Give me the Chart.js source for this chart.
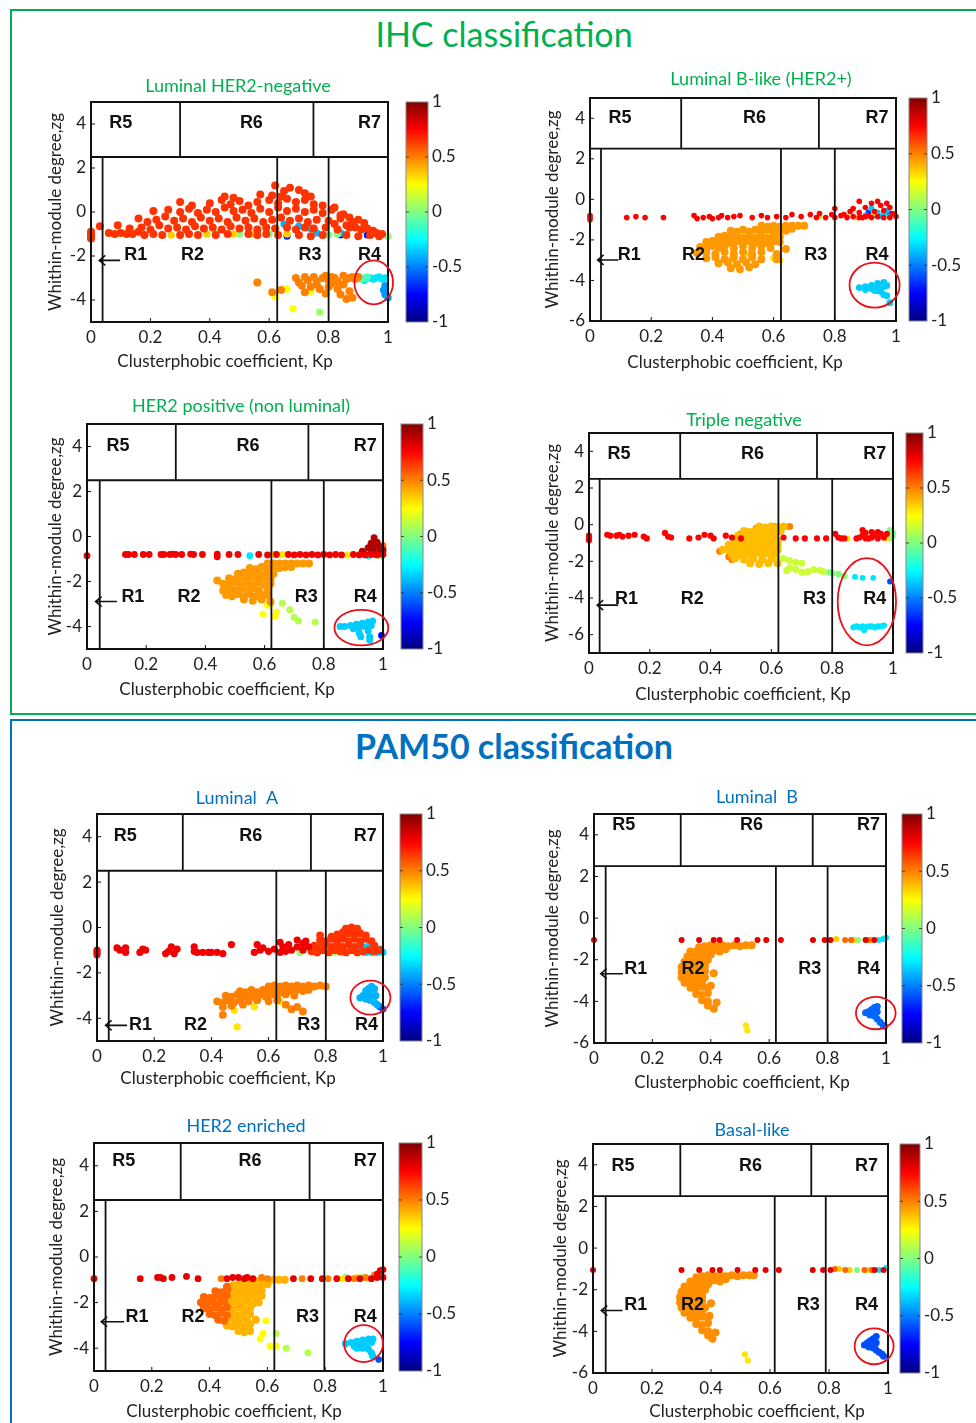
<!DOCTYPE html>
<html><head><meta charset="utf-8">
<script src="https://cdn.jsdelivr.net/npm/chart.js@4.4.1/dist/chart.umd.min.js"></script>
<style>
html,body{margin:0;padding:0;background:#fff;}
#page{position:relative;width:976px;height:1423px;overflow:hidden;font-family:Lato,"Open Sans",sans-serif;}
.frame{position:absolute;box-sizing:border-box;}
.big{position:absolute;transform:translateX(-50%);white-space:nowrap;font-size:34px;line-height:1;}
.pan{position:absolute;}
</style></head><body><div id="page">
<div class="frame" style="left:10px;top:9px;width:990px;height:706px;border:2px solid #00b050;"></div>
<div class="frame" style="left:10px;top:719px;width:990px;height:740px;border:2px solid #0070c0;"></div>
<div class="big" style="left:504px;top:17px;color:#00b050;">IHC classification</div>
<div class="big" style="left:514px;top:729px;color:#0070c0;font-weight:bold;">PAM50 classification</div>
</div>
<script>
// ---------- tick labels ----------
const xTickValues = [0, 0.2, 0.4, 0.6, 0.8, 1];
const xTickLabels = ['0', '0.2', '0.4', '0.6', '0.8', '1'];
const yTicks5 = [-4, -2, 0, 2, 4];
const yTicks6 = [-6, -4, -2, 0, 2, 4];
const cbarTickValues = [-1, -0.5, 0, 0.5, 1];
const cbarTickLabels = ['-1', '-0.5', '0', '0.5', '1'];
const xAxisLabel = 'Clusterphobic coefficient, Kp';
const yAxisLabel = 'Whithin-module degree,zg';

// ---------- Panel 1: Luminal HER2-negative ----------
const p1Red = [[0,-0.9],[0,-1.0],[0,-1.1],[0,-1.2],[0.03,-0.65],[0.06,-0.95],[0.08,-1.0],[0.10,-0.95],[0.12,-1.0],[0.14,-1.0],[0.16,-0.9],[0.18,-1.05],[0.21,-1.0],[0.24,-1.05],[0.30,-1.05],[0.33,-1.0],[0.36,-1.05],[0.42,-1.05],[0.46,-1.0],[0.53,-1.0],[0.56,-1.05],[0.59,-1.0],[0.63,-1.05],[0.70,-1.05],[0.74,-1.1],[0.78,-1.05],[0.86,-1.05],[0.90,-1.1],[0.94,-1.05],[0.97,-1.1],
[0.09,-0.6],[0.13,-0.75],[0.17,-0.7],[0.20,-0.8],[0.23,-0.6],[0.26,-0.75],[0.29,-0.7],[0.32,-0.8],[0.35,-0.65],[0.38,-0.75],[0.41,-0.7],[0.44,-0.8],[0.47,-0.65],[0.50,-0.75],[0.53,-0.7],[0.56,-0.8],[0.59,-0.7],[0.62,-0.75],[0.66,-0.7],[0.69,-0.8],[0.72,-0.7],[0.75,-0.75],[0.79,-0.7],[0.83,-0.8],[0.87,-0.7],[0.91,-0.8],[0.95,-0.85],
[0.16,-0.3],[0.19,-0.45],[0.22,-0.35],[0.25,-0.2],[0.28,-0.4],[0.31,-0.3],[0.34,-0.45],[0.37,-0.25],[0.40,-0.4],[0.43,-0.3],[0.46,-0.45],[0.49,-0.25],[0.52,-0.4],[0.55,-0.3],[0.58,-0.45],[0.61,-0.35],[0.64,-0.25],[0.67,-0.4],[0.70,-0.3],[0.73,-0.45],[0.76,-0.35],[0.80,-0.4],[0.84,-0.3],[0.88,-0.45],[0.92,-0.5],
[0.21,0.05],[0.26,0.1],[0.30,0.0],[0.33,0.15],[0.36,-0.05],[0.39,0.1],[0.42,0.0],[0.45,0.2],[0.48,0.05],[0.51,0.1],[0.54,-0.05],[0.57,0.15],[0.60,0.0],[0.63,0.2],[0.66,0.05],[0.69,0.15],[0.72,0.0],[0.75,0.1],[0.78,-0.05],[0.81,0.1],[0.85,-0.1],
[0.30,0.45],[0.34,0.3],[0.40,0.4],[0.44,0.55],[0.47,0.35],[0.50,0.5],[0.53,0.3],[0.56,0.45],[0.60,0.55],[0.63,0.4],[0.66,0.6],[0.69,0.45],[0.72,0.55],[0.75,0.35],[0.78,0.3],[0.82,0.2],
[0.45,0.7],[0.48,0.65],[0.57,0.8],[0.61,0.75],[0.62,1.2],[0.65,0.95],[0.67,1.1],[0.70,1.0],[0.72,0.85],[0.74,0.7],[0.64,0.7],
[0.82,-0.55],[0.86,-0.6],[0.89,-0.7],[0.93,-0.75],[0.96,-0.95],[0.98,-1.0],[0.84,-0.15],[0.87,-0.25],[0.90,-0.35]];
const p1Yellow = [[0.27,-1.05],[0.39,-1.0],[0.48,-1.0],[0.55,-1.0],[0.66,-1.0]];
const p1Green = [[0.42,-0.95],[0.50,-1.0],[0.60,-1.0],[0.80,-1.05],[0.83,-1.0],[1.0,-1.1],[0.97,-0.95]];
const p1Cyan = [[0.65,-0.55],[0.70,-0.65],[0.74,-0.75],[0.76,-0.95],[0.84,-0.95],[0.97,-1.05]];
const p1Blue = [[0.66,-1.1],[0.84,-1.05],[0.93,-1.05]];
const p1Low = [[0.69,-3.0],[0.70,-3.2],[0.72,-2.95],[0.73,-3.1],[0.75,-2.95],[0.76,-3.15],[0.78,-3.0],[0.79,-2.9],[0.80,-3.1],[0.81,-2.95],[0.82,-3.0],[0.83,-3.15],[0.85,-2.9],[0.86,-3.05],[0.87,-3.0],[0.88,-2.95],[0.89,-3.05],[0.90,-2.95],[0.71,-3.35],[0.74,-3.4],[0.77,-3.5],[0.80,-3.4],[0.83,-3.5],[0.85,-3.3],[0.87,-3.6],[0.84,-3.75],[0.79,-3.7],[0.72,-3.65],[0.88,-3.9],[0.86,-3.95],[0.76,-3.3],[0.81,-3.25],[0.56,-3.2],[0.61,-3.65],[0.64,-3.55]];
const p1LowYellow = [[0.66,-3.5],[0.62,-3.85],[0.68,-4.4],[0.74,-3.6]];
const p1LowGreen = [[0.77,-4.55]];
const p1R4a = [[0.90,-3.0],[0.91,-3.05],[0.92,-3.0],[0.93,-2.95]];
const p1R4b = [[0.94,-3.0],[0.95,-3.05],[0.96,-3.0],[0.97,-2.95],[0.98,-3.05],[0.92,-3.1],[0.99,-3.0]];
const p1R4c = [[0.99,-3.35],[0.985,-3.55],[0.99,-3.75],[1.0,-3.9]];

// ---------- Panel 2: Luminal B-like (HER2+) ----------
const p2Red = [[0,-0.8],[0,-0.9],[0,-1.0],[0.12,-0.9],[0.15,-0.85],[0.18,-0.9],[0.24,-0.9],[0.34,-0.8],[0.35,-0.95],[0.37,-0.9],[0.39,-0.85],[0.40,-0.95],[0.42,-0.9],[0.43,-0.8],[0.45,-0.9],[0.47,-0.85],[0.49,-0.8],[0.53,-0.9],[0.56,-0.8],[0.58,-0.9],[0.61,-0.85],[0.64,-0.9],[0.66,-0.75],[0.69,-0.85],[0.72,-0.75],[0.74,-0.9],[0.75,-0.7],[0.77,-0.9],[0.79,-0.75],[0.80,-0.9],[0.82,-0.8],[0.84,-0.9],[0.86,-0.85],[0.88,-0.9],[0.90,-0.85],[0.92,-0.9],[0.94,-0.85],[0.96,-0.9],[0.98,-0.9],[1.0,-0.85],[0.80,-0.45],[0.85,-0.6],[0.83,-0.75],[0.86,-0.45],[0.88,-0.65],[0.88,-0.1],[0.90,-0.4],[0.92,-0.2],[0.94,-0.1],[0.95,-0.3],[0.96,-0.55],[0.97,-0.2],[0.93,-0.6],[0.91,-0.8],[0.98,-0.4],[0.99,-0.7],[0.89,-0.9]];
const p2Yellow = [[0.84,-0.85],[0.75,-0.85],[0.93,-0.7],[0.87,-0.9]];
const p2Cyan = [[0.94,-0.65],[0.95,-0.85],[0.93,-0.8],[0.96,-0.75],[0.97,-0.55],[0.98,-0.85],[0.92,-0.45],[0.90,-0.8]];
const p2Blue = [[0.98,-0.7],[0.91,-0.65]];
const p2Fan = [[0.56,-1.3],[0.58,-1.35],[0.60,-1.3],[0.62,-1.35],[0.64,-1.3],[0.66,-1.3],[0.68,-1.3],[0.70,-1.3],
[0.46,-1.55],[0.48,-1.6],[0.50,-1.5],[0.52,-1.6],[0.54,-1.5],[0.56,-1.6],[0.58,-1.5],[0.60,-1.6],[0.62,-1.5],[0.64,-1.55],[0.66,-1.45],
[0.42,-1.85],[0.44,-1.8],[0.46,-1.9],[0.48,-1.8],[0.50,-1.9],[0.52,-1.8],[0.54,-1.9],[0.56,-1.8],[0.58,-1.9],[0.60,-1.8],[0.62,-1.85],
[0.38,-2.1],[0.40,-2.05],[0.42,-2.15],[0.44,-2.05],[0.46,-2.15],[0.48,-2.05],[0.50,-2.15],[0.52,-2.05],[0.54,-2.15],[0.56,-2.05],[0.58,-2.15],[0.60,-2.05],[0.62,-2.1],
[0.36,-2.35],[0.38,-2.4],[0.40,-2.3],[0.42,-2.4],[0.44,-2.3],[0.47,-2.4],[0.50,-2.3],[0.53,-2.4],[0.56,-2.3],[0.59,-2.4],[0.64,-2.45],
[0.35,-2.65],[0.38,-2.6],[0.41,-2.7],[0.44,-2.6],[0.47,-2.7],[0.50,-2.6],[0.53,-2.7],[0.56,-2.6],[0.61,-2.7],
[0.38,-2.9],[0.41,-2.85],[0.44,-2.95],[0.47,-2.85],[0.50,-2.95],[0.53,-2.85],[0.56,-2.95],[0.61,-2.95],
[0.42,-3.15],[0.45,-3.1],[0.48,-3.2],[0.51,-3.1],[0.54,-3.2],
[0.46,-3.4],[0.49,-3.45],[0.52,-3.35]];
const p2FanYellow = [[0.46,-3.0],[0.60,-2.9],[0.52,-2.7],[0.62,-3.0]];
const p2R4 = [[0.88,-4.35],[0.90,-4.3],[0.90,-4.45],[0.92,-4.25],[0.92,-4.4],[0.94,-4.15],[0.94,-4.35],[0.94,-4.5],[0.96,-4.1],[0.96,-4.3],[0.95,-4.55],[0.96,-4.7],[0.97,-4.25],[0.97,-4.75],[0.98,-5.1],[0.93,-4.5]];

// ---------- Panel 3: HER2 positive (non luminal) ----------
const p3Red = [[0,-0.85],[0.13,-0.8],[0.14,-0.8],[0.16,-0.8],[0.19,-0.8],[0.21,-0.8],[0.25,-0.8],[0.26,-0.8],[0.28,-0.8],[0.29,-0.78],[0.30,-0.8],[0.32,-0.8],[0.35,-0.78],[0.36,-0.8],[0.39,-0.8],[0.44,-0.78],[0.44,-0.9],[0.48,-0.8],[0.51,-0.8],[0.58,-0.8],[0.61,-0.82],[0.64,-0.8],[0.68,-0.8],[0.70,-0.82],[0.72,-0.8],[0.74,-0.82],[0.76,-0.8],[0.78,-0.82],[0.80,-0.8],[0.82,-0.82],[0.84,-0.8],[0.86,-0.82],[0.90,-0.8],[0.92,-0.82],[0.94,-0.82],[0.96,-0.8],[0.98,-0.82],[1.0,-0.8]];
const p3DarkRed = [[0.97,-0.05],[0.96,-0.3],[0.98,-0.25],[0.95,-0.5],[0.97,-0.5],[0.99,-0.45],[0.93,-0.65],[0.96,-0.7],[0.99,-0.7],[1.0,-0.6],[0.94,-0.8],[0.97,-0.75]];
const p3Orange = [[0.98,-0.35],[1.0,-0.4],[0.99,-0.55]];
const p3RowYellow = [[0.88,-0.82],[0.63,-0.8],[0.66,-0.8]];
const p3RowGreen = [[0.92,-0.8],[0.99,-0.85],[0.98,-0.72]];
const p3RowCyan = [[0.55,-0.85],[0.95,-0.85],[0.97,-0.8]];
const p3Fan = [[0.61,-1.2],[0.63,-1.2],[0.65,-1.2],[0.67,-1.2],[0.69,-1.2],[0.71,-1.2],[0.73,-1.2],[0.75,-1.2],
[0.55,-1.4],[0.57,-1.45],[0.59,-1.35],[0.61,-1.45],[0.63,-1.35],[0.65,-1.4],[0.67,-1.35],[0.69,-1.35],
[0.51,-1.65],[0.53,-1.6],[0.55,-1.7],[0.57,-1.6],[0.59,-1.7],[0.61,-1.6],[0.63,-1.65],
[0.48,-1.85],[0.50,-1.9],[0.52,-1.8],[0.54,-1.9],[0.56,-1.8],[0.58,-1.9],[0.60,-1.8],[0.62,-1.9],
[0.46,-2.1],[0.48,-2.15],[0.50,-2.05],[0.52,-2.15],[0.54,-2.05],[0.56,-2.15],[0.58,-2.05],[0.60,-2.15],[0.62,-2.1],
[0.46,-2.4],[0.48,-2.35],[0.50,-2.4],[0.52,-2.3],[0.54,-2.4],[0.56,-2.3],[0.58,-2.4],[0.61,-2.35],
[0.47,-2.6],[0.49,-2.65],[0.51,-2.55],[0.53,-2.65],[0.55,-2.55],[0.57,-2.65],[0.59,-2.6],[0.61,-2.6],
[0.53,-2.8],[0.56,-2.85],[0.59,-2.8],[0.62,-2.9],[0.44,-1.95]];
const p3FanYellow = [[0.61,-2.65],[0.61,-3.05],[0.595,-3.45],[0.64,-3.35],[0.635,-3.55],[0.62,-3.0]];
const p3FanGreen = [[0.66,-2.97],[0.685,-3.26],[0.70,-3.6],[0.714,-3.76],[0.771,-3.8]];
const p3R4 = [[0.855,-4.0],[0.87,-4.0],[0.89,-3.95],[0.91,-3.9],[0.93,-3.85],[0.95,-3.8],[0.965,-3.75],[0.90,-4.1],[0.92,-4.05],[0.94,-4.0],[0.96,-3.95],[0.92,-4.3],[0.925,-4.45],[0.95,-4.2],[0.955,-4.45],[0.955,-4.6]];
const p3Blue = [[0.995,-4.4]];

// ---------- Panel 4: Triple negative ----------
const p4Red = [[0,-0.6],[0,-0.75],[0,-0.85],[0.06,-0.55],[0.07,-0.6],[0.09,-0.6],[0.10,-0.55],[0.11,-0.65],[0.13,-0.6],[0.15,-0.55],[0.18,-0.65],[0.19,-0.75],[0.25,-0.45],[0.26,-0.65],[0.27,-0.7],[0.33,-0.75],[0.36,-0.7],[0.38,-0.55],[0.40,-0.6],[0.41,-0.75],[0.45,-0.6],[0.47,-0.7],[0.50,-0.75],
[0.64,-0.7],[0.68,-0.75],[0.71,-0.75],[0.75,-0.75],[0.78,-0.75],[0.81,-0.5],[0.82,-0.7],[0.83,-0.75],[0.84,-0.75],[0.88,-0.75],[0.89,-0.7],[0.90,-0.6],[0.90,-0.3],[0.91,-0.45],[0.92,-0.75],[0.93,-0.4],[0.93,-0.7],[0.94,-0.55],[0.95,-0.75],[0.96,-0.5],[0.97,-0.7],[0.98,-0.5],[0.91,-0.75],[0.95,-0.4]];
const p4RowYellow = [[0.85,-0.75],[0.96,-0.6],[0.98,-0.75]];
const p4RowGreen = [[0.99,-0.3],[1.0,-0.6],[0.99,-0.75],[1.0,-0.45]];
const p4Fan = [[0.56,-0.1],[0.58,-0.15],[0.60,-0.1],[0.62,-0.15],[0.64,-0.1],
[0.51,-0.35],[0.53,-0.4],[0.55,-0.3],[0.57,-0.4],[0.59,-0.3],[0.61,-0.4],[0.63,-0.35],
[0.49,-0.6],[0.51,-0.65],[0.53,-0.55],[0.55,-0.65],[0.57,-0.55],[0.59,-0.65],[0.61,-0.6],
[0.48,-0.85],[0.50,-0.9],[0.52,-0.8],[0.54,-0.9],[0.56,-0.8],[0.58,-0.9],[0.60,-0.8],[0.62,-0.9],
[0.46,-1.1],[0.48,-1.15],[0.50,-1.05],[0.52,-1.15],[0.54,-1.05],[0.56,-1.15],[0.58,-1.05],[0.60,-1.15],[0.62,-1.1],
[0.44,-1.35],[0.46,-1.4],[0.48,-1.3],[0.50,-1.4],[0.52,-1.3],[0.54,-1.4],[0.56,-1.3],[0.58,-1.4],[0.60,-1.3],[0.62,-1.4],
[0.47,-1.6],[0.49,-1.65],[0.51,-1.55],[0.53,-1.65],[0.55,-1.55],[0.57,-1.65],[0.59,-1.55],[0.61,-1.6],
[0.48,-1.85],[0.51,-1.9],[0.54,-1.85],[0.57,-1.9],[0.60,-1.85],
[0.53,-2.1],[0.56,-2.15],[0.59,-2.1],[0.62,-2.1]];
const p4FanOrange = [[0.43,-1.45],[0.46,-1.75],[0.47,-1.9],[0.50,-0.5],[0.55,-0.2],[0.61,-0.1],[0.66,-0.1]];
const p4Tail = [[0.62,-1.8],[0.64,-1.85],[0.66,-1.95],[0.68,-2.05],[0.70,-2.1],[0.66,-2.35],[0.65,-2.5],[0.68,-2.45],[0.70,-2.6],[0.72,-2.55],[0.74,-2.45],[0.76,-2.5],[0.77,-2.55]];
const p4TailGreen = [[0.79,-2.6],[0.80,-2.65],[0.82,-2.7],[0.84,-2.8]];
const p4Cyan = [[0.875,-2.85],[0.90,-2.9],[0.935,-2.9]];
const p4Blue = [[0.99,-3.1]];
const p4Bottom = [[0.87,-5.6],[0.88,-5.55],[0.89,-5.6],[0.90,-5.55],[0.91,-5.6],[0.92,-5.55],[0.93,-5.55],[0.94,-5.6],[0.95,-5.55],[0.96,-5.55],[0.97,-5.5],[0.905,-5.75]];

// ---------- Panel 5: Luminal A ----------
const p5Red = [[0,-1.0],[0,-1.1],[0,-1.2],[0.07,-0.9],[0.08,-1.0],[0.10,-0.9],[0.10,-1.1],[0.15,-1.1],[0.16,-0.95],[0.17,-1.0],[0.24,-1.15],[0.25,-1.05],[0.26,-0.85],[0.27,-1.15],[0.28,-0.95],[0.34,-0.85],[0.34,-1.05],[0.35,-1.1],[0.37,-1.1],[0.39,-1.1],[0.40,-1.1],[0.42,-1.1],[0.44,-1.15],[0.47,-0.75],[0.56,-0.75],[0.55,-1.1],[0.57,-1.0],[0.58,-0.9],[0.60,-1.05],[0.62,-0.95],[0.64,-0.65],[0.64,-1.1],[0.65,-0.85],[0.66,-1.05],[0.67,-0.75],[0.68,-1.0],[0.70,-0.85],[0.70,-0.55],[0.72,-0.7],[0.72,-1.0],[0.73,-0.6],[0.74,-0.85]];
const p5Cloud = [[0.87,-0.05],[0.89,0.0],[0.91,-0.05],[0.86,-0.2],
[0.78,-0.35],[0.82,-0.4],[0.84,-0.3],[0.86,-0.35],[0.88,-0.25],[0.90,-0.3],[0.92,-0.25],[0.94,-0.35],
[0.78,-0.55],[0.80,-0.6],[0.82,-0.5],[0.84,-0.6],[0.86,-0.5],[0.88,-0.6],[0.90,-0.5],[0.92,-0.6],[0.94,-0.5],[0.96,-0.6],
[0.76,-0.8],[0.78,-0.85],[0.80,-0.75],[0.82,-0.85],[0.84,-0.75],[0.86,-0.85],[0.88,-0.75],[0.90,-0.85],[0.92,-0.75],[0.97,-0.8],
[0.75,-1.05],[0.77,-1.1],[0.79,-1.0],[0.81,-1.1],[0.83,-1.0],[0.85,-1.05],[0.87,-1.1],[0.89,-1.0],[0.91,-1.1],[0.93,-1.05],[0.95,-1.0],[0.97,-1.05],[0.99,-1.0]];
const p5CloudCyan = [[0.93,-0.85],[0.95,-0.8],[0.97,-0.9],[0.99,-0.95],[0.94,-1.1],[0.96,-1.1],[0.98,-1.1],[1.0,-1.1],[0.92,-1.05],[0.93,-0.9]];
const p5CloudGreen = [[0.71,-1.1],[0.83,-1.1]];
const p5CloudYellow = [[0.85,-1.1],[0.91,-1.05]];
const p5Low = [[0.60,-2.6],[0.62,-2.55],[0.64,-2.6],[0.66,-2.55],[0.68,-2.6],[0.70,-2.55],[0.72,-2.6],[0.74,-2.55],[0.76,-2.6],[0.78,-2.55],[0.80,-2.6],
[0.50,-2.8],[0.52,-2.85],[0.54,-2.75],[0.56,-2.85],[0.58,-2.75],[0.60,-2.85],[0.62,-2.75],[0.64,-2.85],[0.66,-2.75],[0.68,-2.8],[0.70,-2.75],[0.72,-2.8],[0.74,-2.75],
[0.45,-3.0],[0.47,-3.05],[0.49,-2.95],[0.51,-3.05],[0.53,-2.95],[0.55,-3.05],[0.57,-2.95],[0.59,-3.05],[0.61,-2.95],[0.63,-3.0],[0.66,-2.95],[0.69,-3.0],
[0.42,-3.25],[0.44,-3.3],[0.46,-3.2],[0.48,-3.3],[0.50,-3.2],[0.53,-3.25],[0.56,-3.2],[0.60,-3.25],[0.63,-3.2],
[0.44,-3.5],[0.47,-3.45],[0.51,-3.4],[0.66,-3.4],[0.68,-3.6],[0.70,-3.5],[0.72,-3.7],[0.44,-3.85]];
const p5LowYellow = [[0.55,-3.5],[0.48,-3.65],[0.64,-3.25],[0.49,-4.38]];
const p5R4 = [[0.92,-3.1],[0.93,-3.0],[0.94,-2.8],[0.95,-2.7],[0.96,-2.6],[0.97,-2.7],[0.95,-2.95],[0.96,-3.1],[0.97,-3.3],[0.98,-3.4],[0.94,-3.15],[0.965,-2.85],[0.975,-3.0],[0.955,-3.2]];
const p5R4Blue = [[0.99,-3.5],[1.0,-3.6],[0.985,-3.45]];

// ---------- Panel 6: Luminal B ----------
const p6Red = [[0,-1.05],[0.30,-1.05],[0.36,-1.05],[0.41,-1.05],[0.43,-1.05],[0.49,-1.05],[0.56,-1.05],[0.59,-1.05],[0.64,-1.05],[0.75,-1.05],[0.79,-1.05],[0.81,-1.05],[0.93,-1.05],[0.96,-1.05]];
const p6RowOrange = [[0.86,-1.05],[0.88,-1.05],[0.94,-1.05]];
const p6RowYellow = [[0.83,-1.0],[0.89,-1.05],[0.95,-1.05]];
const p6RowGreen = [[0.905,-1.05]];
const p6RowCyan = [[0.975,-1.05],[0.99,-1.0],[1.0,-0.95]];
const p6Fan = [[0.36,-1.4],[0.38,-1.35],[0.40,-1.3],[0.42,-1.35],[0.44,-1.3],[0.46,-1.35],[0.48,-1.3],[0.50,-1.35],[0.52,-1.3],[0.54,-1.3],
[0.33,-1.6],[0.35,-1.6],[0.37,-1.55],[0.39,-1.6],[0.41,-1.55],[0.43,-1.6],[0.45,-1.5],
[0.32,-1.85],[0.34,-1.85],[0.36,-1.8],[0.38,-1.85],[0.40,-1.75],
[0.31,-2.1],[0.33,-2.1],[0.35,-2.05],[0.37,-2.1],[0.39,-2.0],
[0.30,-2.35],[0.32,-2.35],[0.34,-2.3],[0.36,-2.35],[0.38,-2.3],
[0.30,-2.6],[0.32,-2.6],[0.34,-2.55],[0.36,-2.6],[0.38,-2.55],[0.41,-2.65],
[0.30,-2.85],[0.32,-2.9],[0.34,-2.8],[0.36,-2.9],[0.38,-2.85],
[0.31,-3.1],[0.33,-3.1],[0.35,-3.05],[0.37,-3.1],[0.40,-3.25],
[0.33,-3.35],[0.35,-3.4],[0.37,-3.3],[0.39,-3.35],
[0.35,-3.65],[0.37,-3.7],[0.39,-3.6],
[0.37,-3.95],[0.39,-4.0],[0.42,-4.05],
[0.39,-4.2],[0.41,-4.35]];
const p6FanYellow = [[0.52,-5.15],[0.525,-5.4]];
const p6R4 = [[0.93,-4.55],[0.94,-4.5],[0.95,-4.4],[0.96,-4.3],[0.97,-4.25],[0.95,-4.6],[0.96,-4.7],[0.97,-4.5],[0.97,-4.85],[0.98,-5.0],[0.99,-5.15],[0.995,-5.2],[0.945,-4.65],[0.965,-4.55]];

// ---------- Panel 7: HER2 enriched ----------
const p7Red = [[0,-0.95],[0.16,-0.95],[0.22,-0.9],[0.23,-0.9],[0.24,-0.95],[0.27,-0.9],[0.32,-0.85],[0.36,-0.95],[0.46,-0.95],[0.48,-0.9],[0.50,-0.9],[0.52,-0.95],[0.53,-0.9],[0.55,-0.95],[0.69,-0.95],[0.75,-0.95],[0.79,-0.95],[0.84,-0.95],[0.88,-0.95],[0.92,-0.95],[0.96,-0.95],[0.98,-0.9],[1.0,-0.9],[0.99,-0.6],[1.0,-0.55],[0.98,-0.75]];
const p7RowOrange = [[0.44,-0.95],[0.58,-0.9],[0.60,-0.95],[0.72,-0.95],[0.81,-0.95],[0.90,-0.95],[0.94,-0.9],[0.97,-0.8]];
const p7RowYellow = [[0.86,-0.95],[0.95,-0.95],[0.91,-0.9]];
const p7RowGreen = [[0.87,-0.9],[0.93,-0.9],[0.99,-0.8]];
const p7FanA = [[0.42,-1.5],[0.44,-1.55],[0.46,-1.45],[0.38,-1.75],[0.40,-1.8],[0.42,-1.7],[0.44,-1.8],[0.46,-1.7],
[0.37,-2.0],[0.39,-2.05],[0.41,-1.95],[0.43,-2.05],[0.45,-1.95],[0.38,-2.25],[0.40,-2.3],[0.42,-2.2],[0.44,-2.3],[0.46,-2.2],
[0.40,-2.5],[0.42,-2.55],[0.44,-2.45],[0.46,-2.55],[0.43,-2.75],[0.45,-2.8],[0.46,-1.3]];
const p7FanB = [[0.52,-1.05],[0.54,-1.0],[0.56,-1.05],[0.58,-1.0],[0.60,-1.05],[0.62,-1.0],[0.64,-1.0],[0.66,-1.0],
[0.48,-1.25],[0.50,-1.2],[0.52,-1.25],[0.54,-1.2],[0.56,-1.25],[0.58,-1.2],[0.60,-1.2],
[0.48,-1.55],[0.50,-1.45],[0.52,-1.55],[0.54,-1.45],[0.56,-1.5],[0.58,-1.45],
[0.48,-1.8],[0.50,-1.7],[0.52,-1.8],[0.54,-1.7],[0.56,-1.75],[0.58,-1.7],
[0.47,-2.05],[0.49,-1.95],[0.51,-2.05],[0.53,-1.95],[0.55,-2.05],[0.57,-2.0],
[0.48,-2.3],[0.50,-2.2],[0.52,-2.3],[0.54,-2.25],
[0.48,-2.45],[0.50,-2.55],[0.52,-2.45],[0.54,-2.5],
[0.47,-2.7],[0.49,-2.8],[0.51,-2.7],[0.53,-2.8],[0.56,-2.75],
[0.46,-3.0],[0.48,-3.05],[0.50,-2.95],[0.52,-3.05],[0.54,-2.95],
[0.50,-3.25],[0.52,-3.3],[0.54,-3.25]];
const p7Yellow = [[0.56,-2.8],[0.595,-2.8],[0.575,-3.6],[0.585,-3.35],[0.61,-3.9],[0.63,-3.9]];
const p7Green = [[0.63,-3.35],[0.665,-4.0],[0.74,-4.2]];
const p7R4 = [[0.87,-3.8],[0.89,-3.75],[0.91,-3.7],[0.93,-3.65],[0.95,-3.6],[0.965,-3.6],[0.90,-3.9],[0.92,-3.85],[0.94,-3.8],[0.96,-3.75],[0.93,-4.0],[0.95,-4.05],[0.96,-4.2],[0.965,-4.35],[0.91,-4.0]];
const p7Blue = [[0.985,-4.5]];

// ---------- Panel 8: Basal-like ----------
const p8Red = [[0,-1.05],[0.30,-1.05],[0.36,-1.05],[0.405,-1.05],[0.43,-1.05],[0.49,-1.05],[0.55,-1.05],[0.585,-1.05],[0.63,-1.05],[0.745,-1.05],[0.78,-1.05],[0.805,-1.05],[0.955,-1.05],[0.985,-1.05]];
const p8RowOrange = [[0.82,-1.0],[0.855,-1.05],[0.92,-1.05],[0.945,-1.05]];
const p8RowYellow = [[0.835,-1.0],[0.87,-1.05],[0.93,-1.05]];
const p8RowGreen = [[0.895,-1.05]];
const p8RowCyan = [[0.97,-1.05],[0.995,-0.95]];
const p8Fan = [[0.35,-1.4],[0.37,-1.35],[0.39,-1.3],[0.41,-1.35],[0.43,-1.3],[0.45,-1.35],[0.47,-1.3],[0.49,-1.35],[0.51,-1.3],[0.53,-1.3],[0.545,-1.3],
[0.33,-1.6],[0.35,-1.6],[0.37,-1.55],[0.39,-1.6],[0.41,-1.55],[0.43,-1.6],[0.45,-1.5],
[0.31,-1.85],[0.33,-1.85],[0.35,-1.8],[0.37,-1.85],[0.39,-1.75],
[0.30,-2.1],[0.32,-2.1],[0.34,-2.05],[0.36,-2.1],[0.38,-2.0],
[0.295,-2.35],[0.31,-2.35],[0.33,-2.3],[0.35,-2.35],[0.37,-2.3],
[0.295,-2.6],[0.31,-2.6],[0.33,-2.55],[0.35,-2.6],[0.37,-2.55],[0.40,-2.65],
[0.30,-2.85],[0.32,-2.9],[0.34,-2.8],[0.36,-2.9],[0.38,-2.85],
[0.31,-3.1],[0.33,-3.1],[0.35,-3.05],[0.37,-3.1],[0.395,-3.25],
[0.33,-3.35],[0.35,-3.4],[0.37,-3.3],[0.39,-3.35],
[0.35,-3.65],[0.37,-3.7],[0.39,-3.6],
[0.37,-3.95],[0.39,-4.0],[0.415,-4.05],
[0.39,-4.2],[0.405,-4.35]];
const p8FanYellow = [[0.515,-5.1],[0.525,-5.4]];
const p8R4 = [[0.92,-4.65],[0.93,-4.55],[0.94,-4.45],[0.95,-4.35],[0.96,-4.25],[0.94,-4.7],[0.95,-4.8],[0.96,-4.55],[0.96,-4.9],[0.97,-5.0],[0.98,-5.1],[0.985,-5.2],[0.935,-4.75],[0.955,-4.65]];

// ---------- region boundaries (Kp and zg values) ----------
const p1Lines = {r1:0.039, r23:0.627, r34:0.80, r56:0.30, r67:0.749, h:2.5};
const p2Lines = {r1:0.036, r23:0.624, r34:0.80, r56:0.298, r67:0.748, h:2.5};
const p3Lines = {r1:0.043, r23:0.623, r34:0.80, r56:0.30, r67:0.748, h:2.5};
const p4Lines = {r1:0.035, r23:0.623, r34:0.80, r56:0.30, r67:0.75, h:2.5};
const p5Lines = {r1:0.041, r23:0.627, r34:0.80, r56:0.30, r67:0.748, h:2.5};
const p6Lines = {r1:0.04, r23:0.623, r34:0.80, r56:0.297, r67:0.749, h:2.5};
const p7Lines = {r1:0.04, r23:0.624, r34:0.797, r56:0.30, r67:0.746, h:2.5};
const p8Lines = {r1:0.043, r23:0.616, r34:0.789, r56:0.296, r67:0.74, h:2.5};

// ---------- helpers ----------
const FONT = 'Lato, "Open Sans", sans-serif';
const GREEN = '#00b050', BLUE = '#0070c0';
Chart.defaults.font.family = FONT;
function jet(v) {
  const t = (v + 1) / 2;
  const c = a => Math.round(255 * Math.max(0, Math.min(1, 1.5 - Math.abs(a))));
  return `rgb(${c(4*t-3)},${c(4*t-2)},${c(4*t-1)})`;
}
function regionLabels(top, bot, tx, bx) {
  return [['R5',tx[0],top],['R6',tx[1],top],['R7',tx[2],top],['R1',bx[0],bot],['R2',bx[1],bot],['R3',bx[2],bot],['R4',bx[3],bot]];
}

const panels = [
 {title:'Luminal HER2-negative', color:GREEN, box:[91,102,388,322], cbar:[406,428], titlePos:[238,86], xlabPos:[225,362], ylabX:55, ylim:[-5,5], yticks:yTicks5,
  lines:p1Lines, labels:regionLabels(4.05,-1.95,[0.10,0.54,0.938],[0.151,0.342,0.737,0.938]), arrow:[0.098,0.028,-2.2], circle:[0.952,-3.2,0.065,1.0],
  groups:[[p1Red,0.65,4.0],[p1Yellow,0.35,3.7],[p1Green,0.0,3.7],[p1Cyan,-0.4,3.7],[p1Blue,-0.7,3.5],[p1Low,0.5,4.0],[p1LowYellow,0.25,3.7],[p1LowGreen,0.05,3.7],[p1R4a,-0.1,3.7],[p1R4b,-0.3,3.7],[p1R4c,-0.45,3.7]]},
 {title:'Luminal B-like (HER2+)', color:GREEN, box:[590,98,896,321], cbar:[909,927], titlePos:[761,79], xlabPos:[735,363], ylabX:552, ylim:[-6,5], yticks:yTicks6,
  lines:p2Lines, labels:regionLabels(4.0,-2.74,[0.098,0.538,0.938],[0.128,0.338,0.738,0.938]), arrow:[0.093,0.025,-2.99], circle:[0.93,-4.23,0.082,1.11],
  groups:[[p2Red,0.75,2.8],[p2Yellow,0.3,2.8],[p2Cyan,-0.35,3.0],[p2Blue,-0.65,3.0],[p2Fan,0.45,4.0],[p2FanYellow,0.3,3.4],[p2R4,-0.35,3.4]]},
 {title:'HER2 positive (non luminal)', color:GREEN, box:[87,424,383,649], cbar:[401,423], titlePos:[241,406], xlabPos:[227,690], ylabX:55, ylim:[-5,5], yticks:yTicks5,
  lines:p3Lines, labels:regionLabels(4.0,-2.71,[0.105,0.544,0.94],[0.155,0.345,0.741,0.94]), arrow:[0.101,0.029,-2.89], circle:[0.927,-4.05,0.091,0.79],
  groups:[[p3Red,0.78,3.4],[p3DarkRed,0.9,3.5],[p3Orange,0.55,3.4],[p3RowYellow,0.3,3.4],[p3RowGreen,0.0,3.4],[p3RowCyan,-0.3,3.4],[p3Fan,0.45,4.0],[p3FanYellow,0.25,3.5],[p3FanGreen,0.1,3.5],[p3R4,-0.35,3.5],[p3Blue,-0.75,3.4]]},
 {title:'Triple negative', color:GREEN, box:[589,433,893,653], cbar:[906,923], titlePos:[744,420], xlabPos:[743,695], ylabX:552, ylim:[-7,5], yticks:yTicks6,
  lines:p4Lines, labels:regionLabels(3.84,-4.05,[0.099,0.538,0.94],[0.123,0.34,0.742,0.94]), arrow:[0.096,0.027,-4.39], circle:[0.914,-4.2,0.096,2.38],
  groups:[[p4Red,0.75,3.1],[p4RowYellow,0.3,3.1],[p4RowGreen,0.0,3.1],[p4Fan,0.38,4.0],[p4FanOrange,0.5,3.6],[p4Tail,0.15,3.5],[p4TailGreen,0.0,3.3],[p4Cyan,-0.3,2.9],[p4Blue,-0.6,2.9],[p4Bottom,-0.3,3.1]]},
 {title:'Luminal  A', color:BLUE, box:[97,814,383,1041], cbar:[400,422], titlePos:[237,798], xlabPos:[228,1079], ylabX:57, ylim:[-5,5], yticks:yTicks5,
  lines:p5Lines, labels:regionLabels(4.03,-4.31,[0.099,0.538,0.938],[0.152,0.344,0.74,0.942]), arrow:[0.105,0.03,-4.31], circle:[0.956,-3.09,0.07,0.75],
  groups:[[p5Red,0.78,3.6],[p5Cloud,0.65,3.9],[p5CloudCyan,-0.35,3.6],[p5CloudGreen,0.05,3.6],[p5CloudYellow,0.3,3.6],[p5Low,0.5,3.9],[p5LowYellow,0.3,3.6],[p5R4,-0.4,3.7],[p5R4Blue,-0.6,3.4]]},
 {title:'Luminal  B', color:BLUE, box:[594,814,886,1043], cbar:[902,922], titlePos:[757,797], xlabPos:[742,1083], ylabX:552, ylim:[-6,5], yticks:yTicks6,
  lines:p6Lines, labels:regionLabels(4.48,-2.45,[0.102,0.539,0.94],[0.143,0.339,0.739,0.94]), arrow:[0.099,0.023,-2.67], circle:[0.965,-4.56,0.068,0.78],
  groups:[[p6Red,0.8,3.0],[p6RowOrange,0.55,3.0],[p6RowYellow,0.35,3.0],[p6RowGreen,0.0,3.0],[p6RowCyan,-0.3,3.0],[p6Fan,0.47,4.0],[p6FanYellow,0.3,3.1],[p6R4,-0.55,3.5]]},
 {title:'HER2 enriched', color:BLUE, box:[94,1143,383,1371], cbar:[399,422], titlePos:[246,1126], xlabPos:[234,1412], ylabX:56, ylim:[-5,5], yticks:yTicks5,
  lines:p7Lines, labels:regionLabels(4.19,-2.65,[0.103,0.54,0.939],[0.149,0.343,0.739,0.939]), arrow:[0.104,0.025,-2.84], circle:[0.933,-3.8,0.067,0.81],
  groups:[[p7Red,0.8,3.4],[p7RowOrange,0.5,3.4],[p7RowYellow,0.3,3.4],[p7RowGreen,0.0,3.4],[p7FanA,0.55,4.0],[p7FanB,0.4,4.0],[p7Yellow,0.25,3.5],[p7Green,0.1,3.5],[p7R4,-0.35,3.6],[p7Blue,-0.6,3.3]]},
 {title:'Basal-like', color:BLUE, box:[593,1144,888,1373], cbar:[900,920], titlePos:[752,1130], xlabPos:[757,1412], ylabX:560, ylim:[-6,5], yticks:yTicks6,
  lines:p8Lines, labels:regionLabels(3.95,-2.75,[0.102,0.534,0.927],[0.145,0.337,0.73,0.927]), arrow:[0.10,0.028,-3.0], circle:[0.953,-4.72,0.066,0.86],
  groups:[[p8Red,0.8,3.0],[p8RowOrange,0.55,3.0],[p8RowYellow,0.35,3.0],[p8RowGreen,0.0,3.0],[p8RowCyan,-0.3,3.0],[p8Fan,0.47,4.0],[p8FanYellow,0.3,3.1],[p8R4,-0.6,3.5]]}
];

function decoPlugin(p, CL, CT) {
  return {
    id: 'deco',
    afterDatasetsDraw(chart) {
      const {ctx, chartArea: a, scales: {x, y, y2}} = chart;
      const X = v => x.getPixelForValue(v), Y = v => y.getPixelForValue(v);
      const L = p.lines;
      ctx.save();
      ctx.strokeStyle = '#111'; ctx.lineWidth = 1.8;
      ctx.beginPath();
      ctx.moveTo(a.left, Y(L.h)); ctx.lineTo(a.right, Y(L.h));
      [L.r56, L.r67].forEach(v => { ctx.moveTo(X(v), Y(L.h)); ctx.lineTo(X(v), a.top); });
      [L.r1, L.r23, L.r34].forEach(v => { ctx.moveTo(X(v), Y(L.h)); ctx.lineTo(X(v), a.bottom); });
      ctx.stroke();
      ctx.lineWidth = 2;
      ctx.strokeRect(a.left, a.top, a.right - a.left, a.bottom - a.top);
      ctx.lineWidth = 1; ctx.beginPath();
      xTickValues.forEach(v => { ctx.moveTo(X(v), a.bottom); ctx.lineTo(X(v), a.bottom - 4); });
      p.yticks.forEach(v => { ctx.moveTo(a.left, Y(v)); ctx.lineTo(a.left + 4, Y(v)); });
      ctx.stroke();
      const [cx, cy, rx, ry] = p.circle;
      ctx.strokeStyle = '#e8101a'; ctx.lineWidth = 1.8;
      ctx.beginPath();
      ctx.ellipse(X(cx), Y(cy), Math.abs(X(cx + rx) - X(cx)), Math.abs(Y(cy + ry) - Y(cy)), 0, 0, Math.PI * 2);
      ctx.stroke();
      ctx.fillStyle = '#111';
      ctx.font = 'bold 18px "Liberation Sans", Arial, sans-serif';
      ctx.textAlign = 'center'; ctx.textBaseline = 'middle';
      p.labels.forEach(([t, lx, ly]) => ctx.fillText(t, X(lx), Y(ly)));
      const [ax0, ax1, ay] = p.arrow;
      ctx.strokeStyle = '#111'; ctx.lineWidth = 1.6;
      ctx.beginPath();
      ctx.moveTo(X(ax0), Y(ay)); ctx.lineTo(X(ax1), Y(ay));
      ctx.moveTo(X(ax1) + 6, Y(ay) - 5); ctx.lineTo(X(ax1), Y(ay)); ctx.lineTo(X(ax1) + 6, Y(ay) + 5);
      ctx.stroke();
      // colour bar (jet colormap) with inner ticks at the y2 tick values
      const top = y2.getPixelForValue(1), bot = y2.getPixelForValue(-1);
      const g = ctx.createLinearGradient(0, bot, 0, top);
      for (let i = 0; i <= 8; i++) g.addColorStop(i / 8, jet(-1 + 2 * i / 8));
      const cbx = p.cbar[0] - CL, cbw = p.cbar[1] - p.cbar[0];
      ctx.fillStyle = g; ctx.fillRect(cbx, top, cbw, bot - top);
      ctx.strokeStyle = '#888'; ctx.lineWidth = 1; ctx.strokeRect(cbx, top, cbw, bot - top);
      ctx.strokeStyle = 'rgba(60,30,20,0.8)'; ctx.lineWidth = 1; ctx.beginPath();
      cbarTickValues.slice(1, -1).forEach(v => {
        const py = y2.getPixelForValue(v);
        ctx.moveTo(cbx, py); ctx.lineTo(cbx + 3, py);
        ctx.moveTo(cbx + cbw, py); ctx.lineTo(cbx + cbw - 3, py);
      });
      ctx.stroke();
      ctx.textAlign = 'center'; ctx.textBaseline = 'middle';
      ctx.font = `18px ${FONT}`; ctx.fillStyle = p.color;
      ctx.fillText(p.title, p.titlePos[0] - CL, p.titlePos[1] - CT);
      ctx.font = `17px ${FONT}`; ctx.fillStyle = '#222';
      ctx.fillText(xAxisLabel, p.xlabPos[0] - CL, p.xlabPos[1] - CT);
      ctx.restore();
    }
  };
}

const page = document.getElementById('page');
panels.forEach(p => {
  const [bl, bt, br, bb] = p.box;
  const CL = Math.round(p.ylabX - 14);
  const CT = p.titlePos[1] - 16;
  const CR = p.cbar[1] + 46;
  const CB = p.xlabPos[1] + 12;
  const W = CR - CL, H = CB - CT;
  const div = document.createElement('div');
  div.className = 'pan';
  div.style.cssText = `left:${CL}px;top:${CT}px;width:${W}px;height:${H}px;`;
  const cv = document.createElement('canvas');
  cv.width = W; cv.height = H; cv.style.width = W + 'px'; cv.style.height = H + 'px';
  div.appendChild(cv); page.appendChild(div);
  const yW = bl - CL, y2W = CR - br, xH = CB - bb, padTop = bt - CT;
  const yLabels = p.yticks.map(String);
  const tickFont = {family: FONT, size: 17};
  const noGrid = {display: false, drawTicks: false};
  const noPad = s => { s.paddingTop = 0; s.paddingBottom = 0; };
  new Chart(cv, {
    type: 'scatter',
    data: {datasets: p.groups.map(([pts, v, r]) => ({
      data: pts.map(([px, py]) => ({x: px, y: py})),
      backgroundColor: jet(v), pointRadius: r, pointHoverRadius: r, pointBorderWidth: 0, clip: false
    }))},
    options: {
      responsive: false, animation: false, events: [],
      layout: {padding: {top: padTop, left: 0, right: 0, bottom: 0}},
      plugins: {legend: {display: false}, tooltip: {enabled: false}},
      scales: {
        x: {type: 'linear', min: 0, max: 1, grid: noGrid, border: {display: false},
            ticks: {font: tickFont, color: '#222', padding: 5, autoSkip: false, maxRotation: 0, callback: (v, i) => xTickLabels[i]},
            afterBuildTicks: s => { s.ticks = xTickValues.map(v => ({value: v})); },
            afterFit: s => { s.height = xH; s.paddingLeft = 0; s.paddingRight = 0; }},
        y: {type: 'linear', position: 'left', min: p.ylim[0], max: p.ylim[1], grid: noGrid, border: {display: false},
            ticks: {font: tickFont, color: '#222', padding: 5, autoSkip: false, callback: (v, i) => yLabels[i]},
            afterBuildTicks: s => { s.ticks = p.yticks.map(v => ({value: v})); },
            afterFit: s => { s.width = yW; noPad(s); },
            title: {display: true, text: yAxisLabel, font: {family: FONT, size: 17}, color: '#222', padding: {top: 4, bottom: 0}}},
        y2: {type: 'linear', position: 'right', min: -1, max: 1, grid: noGrid, border: {display: false},
            ticks: {font: tickFont, color: '#222', padding: p.cbar[1] + 4 - br, autoSkip: false, callback: (v, i) => cbarTickLabels[i]},
            afterBuildTicks: s => { s.ticks = cbarTickValues.map(v => ({value: v})); },
            afterFit: s => { s.width = y2W; noPad(s); }}
      }
    },
    plugins: [decoPlugin(p, CL, CT)]
  });
});
</script>
</body></html>
